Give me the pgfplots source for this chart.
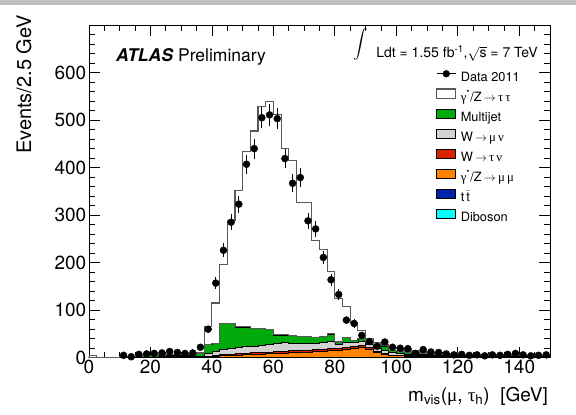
\documentclass[border=0pt]{standalone}
\usepackage{exscale}
\usepackage{pgfplots}
\usepackage{pgfplotstable}
\usepackage{fontspec}
\pgfplotsset{compat=1.18}
\setmainfont{TeX Gyre Heros}
\newfontfamily\grk{Liberation Serif}
\definecolor{mjgreen}{RGB}{0,170,10}
\definecolor{wgray}{RGB}{210,210,210}
\definecolor{wred}{RGB}{215,35,0}
\definecolor{zorange}{RGB}{255,130,0}
\definecolor{ttblue}{RGB}{0,35,170}
\definecolor{dbcyan}{RGB}{0,255,255}
\definecolor{topstrip}{RGB}{192,192,192}
\pgfplotsset{
  boxleg/.style={legend image code/.code={\draw[##1] (0bp,0bp) rectangle (19bp,9.3bp);}},
  mcfill/.style={const plot, stack plots=y, draw=black, line width=0.6bp, boxleg},
}
\pgfplotstableread{
x D TT ZMM WTN WMN MJ ZTT
0 0 0 0 0 0 0 5
2.5 0 0 0 0 0 0 0
5 0 0 0 0 0 0 0
7.5 0 0 0 0 0 0 0
10 0 0 0.2 0.1 0.5 1.0 0.2
12.5 0 0 0.3 0.2 0.7 1.5 0.3
15 0 0 0.3 0.2 0.8 2.2 0.5
17.5 0 0 0.4 0.3 1.0 2.7 0.6
20 0 0 0.4 0.3 1.0 2.7 0.6
22.5 0 0 0.5 0.3 1.2 3.2 0.8
25 0 0 0.5 0.4 1.4 3.7 1.0
27.5 0 0 0.5 0.4 1.4 3.7 1.0
30 0 0 0.5 0.4 1.4 3.7 1.0
32.5 0 0 0.6 0.4 1.5 4.3 1.2
35 0.1 0.2 0.7 0.5 2.0 5.0 1.8
37.5 0.5 1 0.5 1 7 18 38
40 0.5 1 1.5 1.5 8.5 17 85
42.5 0.5 1 3.5 2 11 54 125
45 0.5 1 4.5 2 12 52 216
47.5 0.5 1 4.5 3 13 43 287
50 0.5 1 5.5 3 14 41 368
52.5 0.5 1 6.5 3 14 37 415
55 0.5 1 6.5 3 16 35 466
57.5 0.5 1 7.5 3 16 32 479
60 0.5 1 8.5 3 17 18 464
62.5 0.5 1 8.5 3 19 16 392
65 0.5 1 9.5 4 15 17 367
67.5 0.5 1 10.5 4 15 14 282
70 0.5 1 10.5 4 15 13 283
72.5 0.5 1 11.5 4 13 13 203
75 0.5 1 12.5 4 14 12 184
77.5 0.5 1 13.5 5 15 15 131
80 0.5 1 13.5 4 9 5 92
82.5 0.5 1 15.5 4 11 10 65
85 0.5 1 18.5 4 9 4 38
87.5 0.5 1 20.5 4 8 6 18
90 0.5 1 16.5 3 7 4 8
92.5 0.5 1 10.5 2 6 7 5
95 0.5 1 5.5 2 6 10 3
97.5 0.5 1 3.5 1 5 4 7
100 0.5 1 2.5 1 5 4 6
102.5 0.5 1 1.5 1 4 4 5
105 0.5 1 1.5 1 3 3 4
107.5 0.5 1 1.5 1 3 2 3
110 0.5 1 1 0.5 3 2 3
112.5 0.5 1 1 0.5 2 2 2
115 0.5 1 1 0.5 2 1 2
117.5 0.3 0.5 1 0.5 2 2 1.5
120 0.3 0.5 1 0.5 2 2 1.2
122.5 0.3 0.5 0.9 0.5 1.8 2 1.2
125 0.3 0.5 0.9 0.5 1.8 1.8 1
127.5 0.3 0.5 0.8 0.4 1.7 1.8 1
130 0.3 0.5 0.8 0.4 1.7 1.7 0.9
132.5 0.3 0.5 0.8 0.4 1.6 1.7 0.8
135 0.3 0.5 0.7 0.4 1.6 1.6 0.8
137.5 0.3 0.5 0.7 0.4 1.5 1.6 0.7
140 0.3 0.5 0.7 0.3 1.5 1.5 0.7
142.5 0.3 0.5 0.6 0.3 1.4 1.5 0.6
145 0.3 0.5 0.6 0.3 1.4 1.4 0.6
147.5 0.3 0.5 0.6 0.3 1.3 1.4 0.6
150 0.3 0.5 0.6 0.3 1.3 1.4 0.6
}\mc
\pgfplotstableread{
x y e
11.25 5 2.2
13.75 2 1.4
16.25 7 2.6
18.75 8 2.8
21.25 9 3.0
23.75 10 3.2
26.25 13 3.6
28.75 11 3.3
31.25 9 3.0
33.75 10 3.2
36.25 22 4.7
38.75 60 7.7
41.25 157 12.5
43.75 226 15.0
46.25 285 16.9
48.75 323 18.0
51.25 407 20.2
53.75 440 21.0
56.25 505 22.5
58.75 511 22.6
61.25 503 22.4
63.75 419 20.5
66.25 367 19.2
68.75 379 19.5
71.25 288 17.0
73.75 271 16.5
76.25 211 14.5
78.75 164 12.8
81.25 133 11.5
83.75 79 8.9
86.25 72 8.5
88.75 47 6.9
91.25 34 5.8
93.75 24 4.9
96.25 33 5.7
98.75 22 4.7
101.25 20 4.5
103.75 19 4.4
106.25 9 3.0
108.75 17 4.1
111.25 12 3.5
113.75 11 3.3
116.25 8 2.8
118.75 6 2.4
121.25 7 2.6
123.75 5 2.2
126.25 6 2.4
128.75 4 2.0
131.25 6 2.4
133.75 5 2.2
136.25 7 2.6
138.75 9 3.0
141.25 6 2.4
143.75 4 2.0
146.25 5 2.2
148.75 6 2.4
}\data
\begin{document}
\begin{tikzpicture}
\useasboundingbox (-89bp,-57.3bp) rectangle (487bp,357.7bp);
\fill[topstrip] (-89bp,353bp) rectangle (487bp,357.7bp);
\begin{axis}[
  scale only axis, width=461bp, height=332.7bp,
  xmin=0, xmax=150, ymin=0, ymax=700,
  xtick={0,20,...,140}, minor xtick={0,5,...,150},
  ytick={0,100,...,600}, minor ytick={0,20,...,700},
  major tick length=11bp, minor tick length=6bp,
  tick style={line width=0.8bp, black},
  axis line style={line width=0.8bp},
  /pgf/number format/assume math mode=true,
  ticklabel style={font=\fontsize{19bp}{22bp}\selectfont, inner sep=2.5bp},
  reverse legend,
  legend cell align=left,
  legend style={draw=none, fill=none, at={(0.7527,0.8648)}, anchor=north west,
    font=\fontsize{12.8bp}{14bp}\selectfont, inner sep=0pt, row sep=3.4bp,
    nodes={inner sep=1bp, text height=9bp, text depth=3bp},
    /tikz/every odd column/.append style={column sep=3.5bp}},
]
\addplot[mcfill, fill=dbcyan] table[x=x, y=D] {\mc} \closedcycle;
\addlegendentry{Diboson}
\addplot[mcfill, fill=ttblue] table[x=x, y=TT] {\mc} \closedcycle;
\addlegendentry{t\,$\bar{\mbox{t}}$}
\addplot[mcfill, fill=zorange] table[x=x, y=ZMM] {\mc} \closedcycle;
\addlegendentry{{\grk γ}\textsuperscript{*}/Z\,$\rightarrow$\,{\grk μ\,μ}}
\addplot[mcfill, fill=wred] table[x=x, y=WTN] {\mc} \closedcycle;
\addlegendentry{W\,$\rightarrow$\,{\grk τ\,ν}}
\addplot[mcfill, fill=wgray] table[x=x, y=WMN] {\mc} \closedcycle;
\addlegendentry{W\,$\rightarrow$\,{\grk μ\,ν}}
\addplot[mcfill, fill=mjgreen] table[x=x, y=MJ] {\mc} \closedcycle;
\addlegendentry{Multijet}
\addplot[mcfill, fill=white, draw=black!65, line width=1.1bp] table[x=x, y=ZTT] {\mc} \closedcycle;
\addlegendentry{{\grk γ}\textsuperscript{*}/Z\,$\rightarrow$\,{\grk τ\,τ}}
\addplot[black, only marks, mark=*, mark size=3.5bp,
  legend image code/.code={\draw[black, line width=0.8bp] (0bp,4.3bp) -- (19bp,4.3bp); \fill[black] (9.5bp,4.3bp) circle (3.4bp);},
  error bars/.cd, y dir=both, y explicit, error mark=none,
  error bar style={line width=0.8bp, black}]
  table[x=x, y=y, y error=e] {\data};
\addlegendentry{Data 2011}
\end{axis}
\node[anchor=base west, inner sep=0, font=\fontsize{17.5bp}{20bp}\selectfont] at (27bp,296.2bp) {\textbf{\textit{ATLAS}} Preliminary};
\node[anchor=center, inner sep=0] at (272bp,313bp) {\fontsize{15.5bp}{18bp}\selectfont$\displaystyle\int$};
\node[anchor=base east, inner sep=0, font=\fontsize{14bp}{16bp}\selectfont] at (449bp,299.7bp) {Ldt = 1.55 fb\textsuperscript{-1},$\sqrt{\mbox{s}}$ = 7 TeV};
\node[anchor=base east, inner sep=0, font=\fontsize{19bp}{22bp}\selectfont] at (459bp,-43.3bp) {m\textsubscript{vis}({\grk μ}, {\grk τ}\textsubscript{h})\ \ [GeV]};
\node[rotate=90, anchor=north east, inner sep=0, font=\fontsize{20bp}{24bp}\selectfont] at (-73bp,342.7bp) {Events/2.5 GeV};
\end{tikzpicture}
\end{document}
